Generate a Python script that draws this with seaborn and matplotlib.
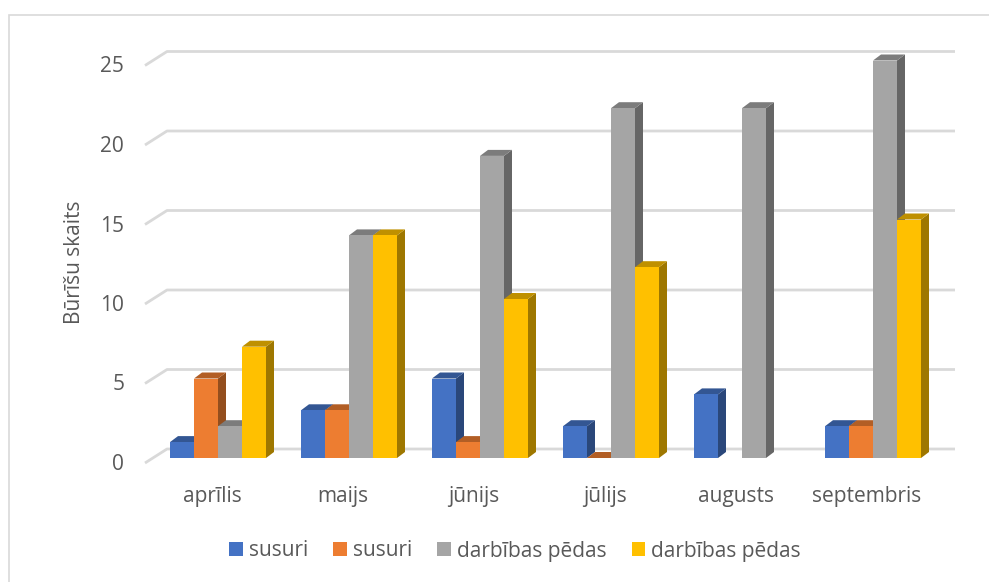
import numpy as np
import pandas as pd
import matplotlib.pyplot as plt
import matplotlib.colors as mcolors
import seaborn as sns
from matplotlib.patches import Polygon, Patch, Rectangle
from matplotlib.transforms import ScaledTranslation

months = ['aprīlis', 'maijs', 'jūnijs', 'jūlijs', 'augusts', 'septembris']
series_labels = ['susuri', 'susuri', 'darbības pēdas', 'darbības pēdas']
susuri_a = [1, 3, 5, 2, 4, 2]
susuri_b = [5, 3, 1, 0, np.nan, 2]
pedas_a = [2, 14, 19, 22, 22, 25]
pedas_b = [7, 14, 10, 12, np.nan, 15]
colors = ['#4472C4', '#ED7D31', '#A5A5A5', '#FFC000']
y_ticks = [0, 5, 10, 15, 20, 25]
y_title = 'Būrīšu skaits'

series_keys = ['s1', 's2', 's3', 's4']
rows = []
for key, vals in zip(series_keys, [susuri_a, susuri_b, pedas_a, pedas_b]):
    for m, v in zip(months, vals):
        rows.append({'month': m, 'series': key, 'value': v})
df = pd.DataFrame(rows).dropna()

sns.set_style('white')
plt.rcParams['font.family'] = ['Open Sans', 'DejaVu Sans']
text_color = '#595959'
fs = 15

W, H, DPI = 989, 582, 100
fig = plt.figure(figsize=(W / DPI, H / DPI), dpi=DPI)

# layout in pixels (3d-ish look like the excel chart)
cat0_px, cat_step = 218, 131      # first category center, spacing
ax_left_px, ax_right_px = 145, 955
zero_px, unit_px = 458, 15.9       # bar plane y of 0, pixels per unit
y_top = 26.5
wall_dx, wall_dy, front_dy = 22, 9, 5
bar_dx, bar_dy = 8, 6

xl = (ax_left_px - cat0_px) / cat_step
xr = (ax_right_px - cat0_px) / cat_step
ax = fig.add_axes([ax_left_px / W, (H - zero_px) / H,
                   (ax_right_px - ax_left_px) / W, y_top * unit_px / H])

sns.barplot(data=df, x='month', y='value', hue='series', order=months,
            hue_order=series_keys, palette=colors, saturation=1, width=96 / cat_step,
            edgecolor='none', linewidth=0, legend=False, ax=ax)
ax.set_xlim(xl, xr)
ax.set_ylim(0, y_top)

# back wall gridlines with the perspective stub on the left
ddx = 1 / cat_step
ddy = 1 / unit_px
for v in y_ticks:
    ax.plot([xl, xl + wall_dx * ddx, xr],
            [v - front_dy * ddy, v + wall_dy * ddy, v + wall_dy * ddy],
            color='#d9d9d9', lw=2, zorder=1, solid_capstyle='butt', clip_on=False)

# give each bar a top and side face
bars = [p for p in ax.patches if np.isfinite(p.get_height())]
bars.sort(key=lambda p: p.get_x())
for k, p in enumerate(bars):
    x0, w, h = p.get_x(), p.get_width(), p.get_height()
    x1 = x0 + w
    rgb = np.array(mcolors.to_rgb(p.get_facecolor()))
    base = 2 + k * 0.1
    side = Polygon([(x1, 0), (x1, h), (x1 + bar_dx * ddx, h + bar_dy * ddy),
                    (x1 + bar_dx * ddx, bar_dy * ddy)],
                   closed=True, facecolor=rgb * 0.62, edgecolor='none', zorder=base)
    top = Polygon([(x0, h), (x1, h), (x1 + bar_dx * ddx, h + bar_dy * ddy),
                   (x0 + bar_dx * ddx, h + bar_dy * ddy)],
                  closed=True, facecolor=rgb * 0.75, edgecolor='none', zorder=base + 0.01)
    ax.add_patch(side)
    ax.add_patch(top)
    p.set_zorder(base + 0.05)

sns.despine(ax=ax, left=True, bottom=True)
ax.set_xlabel('')
ax.set_ylabel('')
ax.set_yticks(y_ticks)
ax.set_yticklabels([str(v) for v in y_ticks])
ax.tick_params(axis='y', length=0, pad=15, labelsize=fs, labelcolor=text_color)
ax.tick_params(axis='x', length=0, pad=20, labelsize=fs, labelcolor=text_color)
for lab in ax.get_yticklabels():
    lab.set_transform(lab.get_transform() + ScaledTranslation(0, -4 / DPI, fig.dpi_scale_trans))
for lab in ax.get_xticklabels():
    lab.set_transform(lab.get_transform() + ScaledTranslation(-6 / DPI, 0, fig.dpi_scale_trans))
ax.grid(False)

fig.text(74 / W, (H - 262) / H, y_title, rotation=90, ha='center', va='center',
         fontsize=fs, color=text_color)

handles = [Patch(facecolor=c, edgecolor='none', label=l) for c, l in zip(colors, series_labels)]
fig.legend(handles=handles, loc='center', bbox_to_anchor=(515 / W, (H - 551) / H), ncol=4,
           frameon=False, fontsize=fs, labelcolor=text_color, handlelength=0.65,
           handleheight=0.65, handletextpad=0.3, columnspacing=1.2)

fig.add_artist(Rectangle((9 / W, -0.05), 1.1, (H - 15) / H + 0.05, transform=fig.transFigure,
                         fill=False, edgecolor='#d9d9d9', lw=1.2))

fig.savefig('out.png', dpi=DPI)
